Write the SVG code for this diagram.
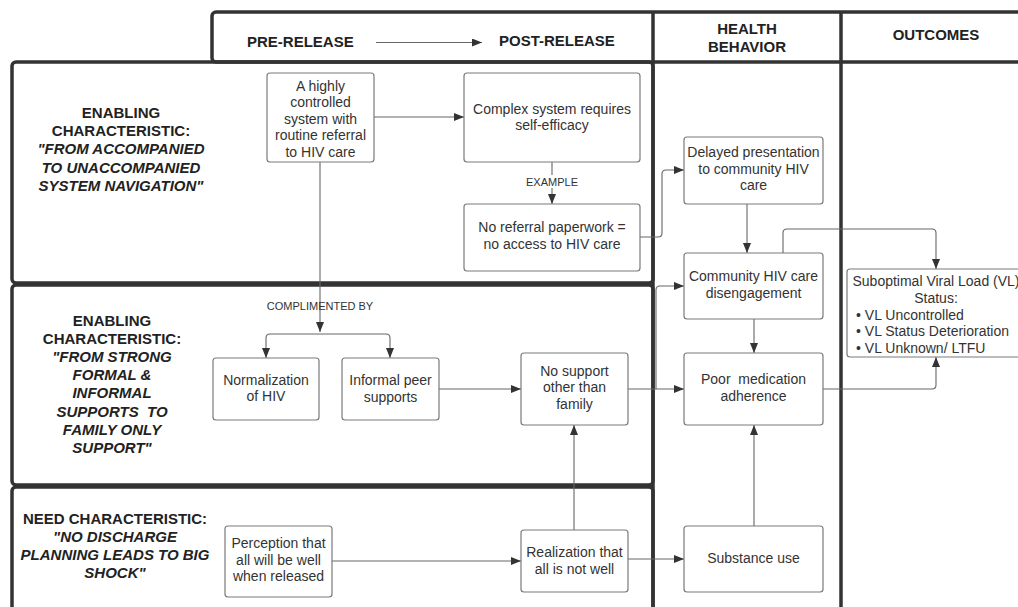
<svg xmlns="http://www.w3.org/2000/svg" width="1018" height="607" viewBox="0 0 1018 607">
<defs>
<marker id="ah" markerUnits="userSpaceOnUse" markerWidth="10" markerHeight="8" refX="10" refY="4" orient="auto">
<path d="M0,0 L10,4 L0,8 z" fill="#333"/>
</marker>
<style>
.frame{fill:none;stroke:#333;stroke-width:3.5}
.node{fill:#fff;stroke:#7a7a7a;stroke-width:1.2}
.t{font-family:"Liberation Sans",Arial,sans-serif;font-size:14px;fill:#333;text-anchor:middle}
.tl{font-family:"Liberation Sans",Arial,sans-serif;font-size:14px;fill:#333;text-anchor:start}
.h{font-family:"Liberation Sans",Arial,sans-serif;font-size:15px;font-weight:bold;fill:#222;text-anchor:middle}
.hs{font-family:"Liberation Sans",Arial,sans-serif;font-size:15px;font-weight:bold;fill:#222;text-anchor:start}
.hi{font-family:"Liberation Sans",Arial,sans-serif;font-size:15px;font-weight:bold;font-style:italic;fill:#222;text-anchor:middle}
.lab{font-family:"Liberation Sans",Arial,sans-serif;font-size:11px;fill:#333;text-anchor:middle}
.c{fill:none;stroke:#666;stroke-width:1.1}
.ca{fill:none;stroke:#666;stroke-width:1.1;marker-end:url(#ah)}
</style>
</defs>
<rect width="1018" height="607" fill="#fff"/>

<g id="frames">
<rect class="frame" x="212" y="12" width="830" height="50" rx="4"/>
<rect class="frame" x="12" y="62" width="641" height="221" rx="4"/>
<rect class="frame" x="12" y="285" width="641" height="200" rx="4"/>
<rect class="frame" x="12" y="487" width="641" height="140" rx="4"/>
<path class="frame" d="M653,12 V607 M841,12 V607"/>
</g>

<g id="headers">
<text class="hs" x="247" y="47">PRE-RELEASE</text>
<text class="hs" x="499" y="46">POST-RELEASE</text>
<text class="h" x="747" y="34">HEALTH</text>
<text class="h" x="747" y="52">BEHAVIOR</text>
<text class="h" x="936" y="40">OUTCOMES</text>
</g>

<g id="row-labels">
<text class="h" x="121" y="118">ENABLING</text>
<text class="h" x="121" y="136">CHARACTERISTIC:</text>
<text class="hi" x="121" y="154">"FROM ACCOMPANIED</text>
<text class="hi" x="121" y="172.5">TO UNACCOMPANIED</text>
<text class="hi" x="121" y="190.5">SYSTEM NAVIGATION"</text>

<text class="h" x="112" y="326">ENABLING</text>
<text class="h" x="112" y="344">CHARACTERISTIC:</text>
<text class="hi" x="112" y="362">"FROM STRONG</text>
<text class="hi" x="112" y="380">FORMAL &amp;</text>
<text class="hi" x="112" y="398">INFORMAL</text>
<text class="hi" x="112" y="416.5" xml:space="preserve">SUPPORTS  TO</text>
<text class="hi" x="112" y="434.5">FAMILY ONLY</text>
<text class="hi" x="112" y="452.5">SUPPORT"</text>

<text class="h" x="115" y="523.5">NEED CHARACTERISTIC:</text>
<text class="hi" x="115" y="541.5">"NO DISCHARGE</text>
<text class="hi" x="115" y="559.5">PLANNING LEADS TO BIG</text>
<text class="hi" x="115" y="578">SHOCK"</text>
</g>

<g id="connectors">
<path class="ca" d="M376,42.5 H482"/>
<path class="ca" d="M374,117 H464"/>
<path class="ca" d="M552,162 V204"/>
<rect x="524" y="175" width="56" height="13" fill="#fff"/>
<text class="lab" x="552" y="185.5">EXAMPLE</text>
<path class="ca" d="M640,237 H658 Q662,237 662,233 V174 Q662,170 666,170 H684"/>
<path class="ca" d="M747,204 V253"/>
<path class="ca" d="M783,253 V233 Q783,229 787,229 H932 Q936,229 936,233 V269"/>
<path class="ca" d="M320,162 V332"/>
<text class="lab" x="320" y="309.5">COMPLIMENTED BY</text>
<path class="ca" d="M320,334 H270 Q266,334 266,338 V358"/>
<path class="ca" d="M320,334 H386 Q390,334 390,338 V358"/>
<path class="ca" d="M439,389 H521"/>
<path class="ca" d="M628,389 H684"/>
<path class="ca" d="M656,389 V290 Q656,286 660,286 H684"/>
<path class="ca" d="M332,561 H521"/>
<path class="ca" d="M574,530 V425"/>
<path class="ca" d="M628,559 H684"/>
<path class="ca" d="M754,526 V425"/>
<path class="ca" d="M754,319 V353"/>
<path class="ca" d="M823,389 H932 Q936,389 936,385 V357"/>
</g>

<g id="n-controlled">
<rect class="node" x="267" y="73" width="107" height="89" rx="3"/>
<text class="t" x="320.5" y="90.7">A highly</text>
<text class="t" x="320.5" y="107">controlled</text>
<text class="t" x="320.5" y="123.5">system with</text>
<text class="t" x="320.5" y="140">routine referral</text>
<text class="t" x="320.5" y="156.5">to HIV care</text>
</g>
<g id="n-complex">
<rect class="node" x="464" y="73" width="176" height="89" rx="3"/>
<text class="t" x="552" y="113.7">Complex system requires</text>
<text class="t" x="552" y="130.3">self-efficacy</text>
</g>
<g id="n-noreferral">
<rect class="node" x="464" y="204" width="176" height="67" rx="3"/>
<text class="t" x="552" y="232">No referral paperwork =</text>
<text class="t" x="552" y="248.5">no access to HIV care</text>
</g>
<g id="n-delayed">
<rect class="node" x="684" y="137" width="139" height="67" rx="3"/>
<text class="t" x="753.5" y="157">Delayed presentation</text>
<text class="t" x="753.5" y="173.7">to community HIV</text>
<text class="t" x="753.5" y="190.3">care</text>
</g>
<g id="n-disengagement">
<rect class="node" x="684" y="253" width="139" height="66" rx="3"/>
<text class="t" x="753.5" y="281">Community HIV care</text>
<text class="t" x="753.5" y="297.5">disengagement</text>
</g>
<g id="n-adherence">
<rect class="node" x="684" y="353" width="139" height="72" rx="3"/>
<text class="t" x="753.5" y="384" xml:space="preserve">Poor  medication</text>
<text class="t" x="753.5" y="400.5">adherence</text>
</g>
<g id="n-substance">
<rect class="node" x="684" y="526" width="139" height="66" rx="3"/>
<text class="t" x="753.5" y="562.7">Substance use</text>
</g>
<g id="n-outcome">
<rect class="node" x="847" y="269" width="180" height="88" rx="3"/>
<text class="t" x="936" y="286">Suboptimal Viral Load (VL)</text>
<text class="t" x="936" y="303">Status:</text>
<text class="tl" x="856" y="319.5">• VL Uncontrolled</text>
<text class="tl" x="856" y="336">• VL Status Deterioration</text>
<text class="tl" x="856" y="352.5">• VL Unknown/ LTFU</text>
</g>
<g id="n-normalization">
<rect class="node" x="213" y="358" width="106" height="62" rx="3"/>
<text class="t" x="266" y="384.7">Normalization</text>
<text class="t" x="266" y="401.3">of HIV</text>
</g>
<g id="n-peer">
<rect class="node" x="342" y="358" width="97" height="62" rx="3"/>
<text class="t" x="390.5" y="385">Informal peer</text>
<text class="t" x="390.5" y="401.7">supports</text>
</g>
<g id="n-nosupport">
<rect class="node" x="521" y="353" width="107" height="72" rx="3"/>
<text class="t" x="574.5" y="375.7">No support</text>
<text class="t" x="574.5" y="392.3">other than</text>
<text class="t" x="574.5" y="408.7">family</text>
</g>
<g id="n-perception">
<rect class="node" x="225" y="526" width="107" height="71" rx="3"/>
<text class="t" x="278.5" y="548.3">Perception that</text>
<text class="t" x="278.5" y="564.7">all will be well</text>
<text class="t" x="278.5" y="580.7">when released</text>
</g>
<g id="n-realization">
<rect class="node" x="521" y="530" width="107" height="62" rx="3"/>
<text class="t" x="574.5" y="557">Realization that</text>
<text class="t" x="574.5" y="573.7">all is not well</text>
</g>
</svg>
